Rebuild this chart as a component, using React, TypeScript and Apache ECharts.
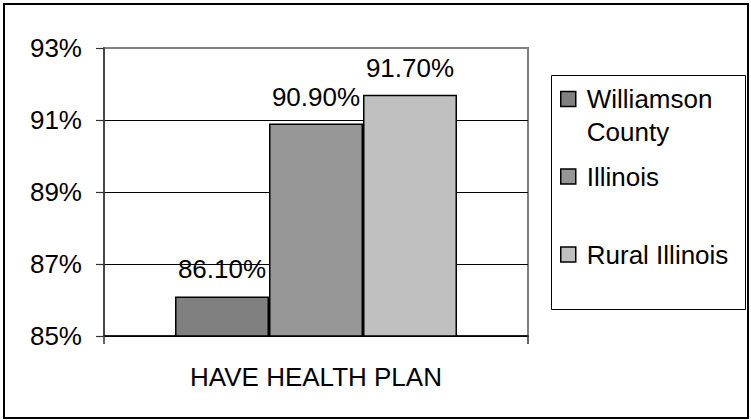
import React, { useEffect, useRef } from "react";
import * as echarts from "echarts";

const categories = ["HAVE HEALTH PLAN"];
const seriesNames = ["Williamson County", "Illinois", "Rural Illinois"];
const williamsonValues = [86.1];
const illinoisValues = [90.9];
const ruralValues = [91.7];
const seriesColors = ["#808080", "#969696", "#c0c0c0"];
const yMin = 85;
const yMax = 93;
const yStep = 2;

const FONT = "'Liberation Sans', Arial, Helvetica, sans-serif";
const FS = 26;

export default function App() {
  const ref = useRef<HTMLDivElement>(null);

  useEffect(() => {
    document.body.style.margin = "0";
    if (!ref.current) return;
    const chart = echarts.init(ref.current, undefined, { renderer: "svg" });
    const values = [williamsonValues, illinoisValues, ruralValues];

    const legendBase = (name: string, top: number, formatter?: string) => ({
      show: true,
      orient: "vertical",
      left: 560,
      top,
      padding: 0,
      itemWidth: 15,
      itemHeight: 15,
      icon: "rect",
      selectedMode: false,
      data: [name],
      formatter: formatter ?? "{name}",
      itemStyle: { borderColor: "#000", borderWidth: 1.5 },
      textStyle: {
        fontFamily: FONT,
        fontSize: FS,
        color: "#000",
        lineHeight: 33,
        padding: [0, 0, 0, 6],
      },
    });

    chart.setOption({
      animation: false,
      backgroundColor: "#fff",
      textStyle: { fontFamily: FONT },
      grid: {
        left: 104,
        top: 48,
        right: 223,
        bottom: 84,
        show: true,
        borderColor: "#808080",
        borderWidth: 2,
        backgroundColor: "transparent",
      },
      legend: [
        legendBase(seriesNames[0], 49.5, "\nWilliamson\nCounty"),
        legendBase(seriesNames[1], 160),
        legendBase(seriesNames[2], 238),
      ],
      xAxis: {
        type: "category",
        data: categories,
        boundaryGap: true,
        axisLine: { show: true, lineStyle: { color: "#000", width: 1.5 } },
        axisTick: { show: true, length: 8, lineStyle: { color: "#333", width: 1.5 } },
        axisLabel: { fontFamily: FONT, fontSize: FS, color: "#000", margin: 28 },
        splitLine: { show: false },
      },
      yAxis: {
        type: "value",
        min: yMin,
        max: yMax,
        interval: yStep,
        axisLine: { show: true, lineStyle: { color: "#333", width: 1.5 } },
        axisTick: { show: true, length: 8, lineStyle: { color: "#333", width: 1.2 } },
        axisLabel: {
          fontFamily: FONT,
          fontSize: FS,
          color: "#000",
          margin: 22,
          formatter: (v: number) => `${v}%`,
        },
        splitLine: {
          show: true,
          lineStyle: { color: ["#000", "#000", "#000", "#000", "#808080"], width: 1 },
        },
      },
      series: seriesNames.map((name, i) => ({
        name,
        type: "bar",
        data: values[i],
        barWidth: 94,
        barGap: "0%",
        itemStyle: { color: seriesColors[i], borderColor: "#000", borderWidth: 1.5 },
        label: {
          show: true,
          position: "top",
          distance: 14,
          fontFamily: FONT,
          fontSize: FS,
          color: "#000",
          formatter: (p: any) => `${Number(p.value).toFixed(2)}%`,
        },
      })),
      graphic: [
        {
          type: "rect",
          left: 549,
          top: 73,
          shape: { x: 0, y: 0, width: 194, height: 234 },
          style: { fill: "none", stroke: "#000", lineWidth: 1 },
          z: -1,
        },
        {
          type: "rect",
          shape: { x: 4, y: 4, width: 744, height: 414 },
          style: { fill: "none", stroke: "#000", lineWidth: 2 },
          silent: true,
        },
      ],
    });

    return () => chart.dispose();
  }, []);

  return <div ref={ref} style={{ width: 751, height: 420 }} />;
}
